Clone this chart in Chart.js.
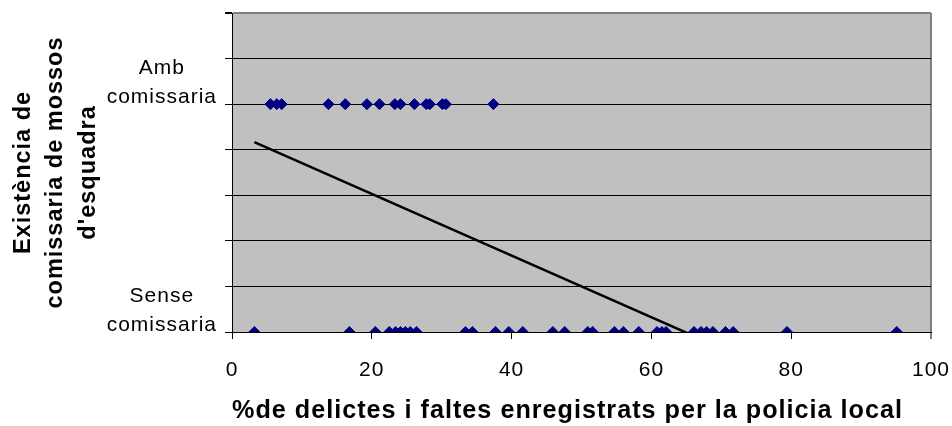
<!DOCTYPE html>
<html>
<head>
<meta charset="utf-8">
<script src="https://cdn.jsdelivr.net/npm/chart.js@4/dist/chart.umd.min.js"></script>
<style>
  body { margin: 0; background: #fff; }
</style>
</head>
<body>
<canvas id="chartComissaria" width="952" height="426"></canvas>
<script>
// % of offences recorded by local police, per town
const ambX = [5.5, 6.4, 7.1, 13.8, 16.2, 19.3, 21.1, 23.3, 24.1, 26.1, 27.8, 28.3, 30.1, 30.6, 37.4];
const senseX = [3.2, 16.8, 20.5, 22.5, 23.4, 24.1, 24.8, 25.5, 26.4, 33.4, 34.4, 37.7, 39.6, 41.6,
    45.9, 47.6, 50.9, 51.6, 54.7, 56.0, 58.2, 60.8, 61.5, 62.1, 66.1, 67.1, 67.9, 68.8, 70.6, 71.7, 79.4, 95.1];
const ambY = 1;
const senseY = 0;

// linear trend line endpoints
const trendX = [3.2, 95.1];
const trendY = [0.833, -0.41];

const yLabels = { 0: ['Sense', 'comissaria'], 1: ['Amb', 'comissaria'] };
const xTitle = '%de delictes i faltes enregistrats per la policia local';
const yTitle = ['Existència de', 'comissaria de mossos', "d'esquadra"];

// grey plot area + the slightly spaced-out text of the original
const plotBg = {
    id: 'plotBg',
    beforeLayout(chart) {
        chart.ctx.letterSpacing = '1px';
    },
    beforeDraw(chart) {
        const { ctx, chartArea: a } = chart;
        ctx.letterSpacing = '1px';
        ctx.save();
        ctx.fillStyle = '#C0C0C0';
        ctx.fillRect(a.left, a.top, a.right - a.left, a.bottom - a.top);
        ctx.restore();
    }
};

let font = 'Arial, "Liberation Sans", sans-serif';

let chartData = {
    datasets: [
        {
            label: 'Amb comissaria',
            data: ambX.map(x => ({ x: x, y: ambY })),
            pointStyle: 'rectRot',
            pointRadius: 5.5,
            pointBorderWidth: 1,
            backgroundColor: '#000080',
            borderColor: '#000080'
        },
        {
            label: 'Sense comissaria',
            data: senseX.map(x => ({ x: x, y: senseY })),
            pointStyle: 'rectRot',
            pointRadius: 5.5,
            pointBorderWidth: 1,
            backgroundColor: '#000080',
            borderColor: '#000080'
        },
        {
            label: 'Tendència',
            data: trendX.map((x, i) => ({ x: x, y: trendY[i] })),
            showLine: true,
            pointRadius: 0,
            borderColor: '#000',
            borderWidth: 2.5,
            clip: 0
        }
    ]
};

new Chart(document.getElementById('chartComissaria'), {
    type: 'scatter',
    data: chartData,
    plugins: [plotBg],
    options: {
        responsive: false,
        animation: false,
        layout: { padding: { top: 13, right: 21, left: 0, bottom: 0 } },
        plugins: { legend: { display: false }, tooltip: { enabled: false } },
        scales: {
            x: {
                type: 'linear',
                min: 0,
                max: 100,
                afterFit(scale) {
                    scale.height = 94;
                    scale.paddingLeft = 0;
                    scale.paddingRight = 0;
                },
                ticks: {
                    stepSize: 20,
                    padding: 19,
                    color: '#000',
                    font: { family: font, size: 21 }
                },
                grid: {
                    drawOnChartArea: true,
                    color: ctx => (ctx.tick && ctx.tick.value === 100) ? '#808080' : 'rgba(0,0,0,0)',
                    lineWidth: ctx => (ctx.tick && ctx.tick.value === 100) ? 2 : 1,
                    tickColor: '#000',
                    tickLength: 7,
                    tickWidth: 1
                },
                border: { color: '#000', width: 1 },
                title: {
                    display: true,
                    text: xTitle,
                    align: 'start',
                    color: '#000',
                    padding: { top: 0, bottom: 0 },
                    font: { family: font, size: 25.2, weight: 'bold' }
                }
            },
            y: {
                type: 'linear',
                min: 0,
                max: 1.4,
                afterFit(scale) {
                    scale.width = 232;
                    scale.paddingTop = 0;
                    scale.paddingBottom = 0;
                },
                ticks: {
                    stepSize: 0.2,
                    autoSkip: false,
                    padding: 8,
                    crossAlign: 'center',
                    labelOffset: -21,
                    color: '#000',
                    font: { family: font, size: 21, lineHeight: 1.38 },
                    callback: function (v) {
                        if (Math.abs(v - 1) < 1e-9) return yLabels[1];
                        if (Math.abs(v) < 1e-9) return yLabels[0];
                        return '';
                    }
                },
                grid: {
                    color: ctx => (ctx.tick && Math.abs(ctx.tick.value - 1.4) < 1e-9) ? '#808080' : '#000',
                    lineWidth: ctx => (ctx.tick && Math.abs(ctx.tick.value - 1.4) < 1e-9) ? 2 : 1,
                    tickColor: '#000',
                    tickLength: 7
                },
                border: { color: '#000', width: 1 },
                title: {
                    display: true,
                    text: yTitle,
                    color: '#000',
                    padding: { top: 7, bottom: 0 },
                    font: { family: font, size: 23.5, weight: 'bold', lineHeight: 1.38 }
                }
            }
        }
    }
});
</script>
</body>
</html>
